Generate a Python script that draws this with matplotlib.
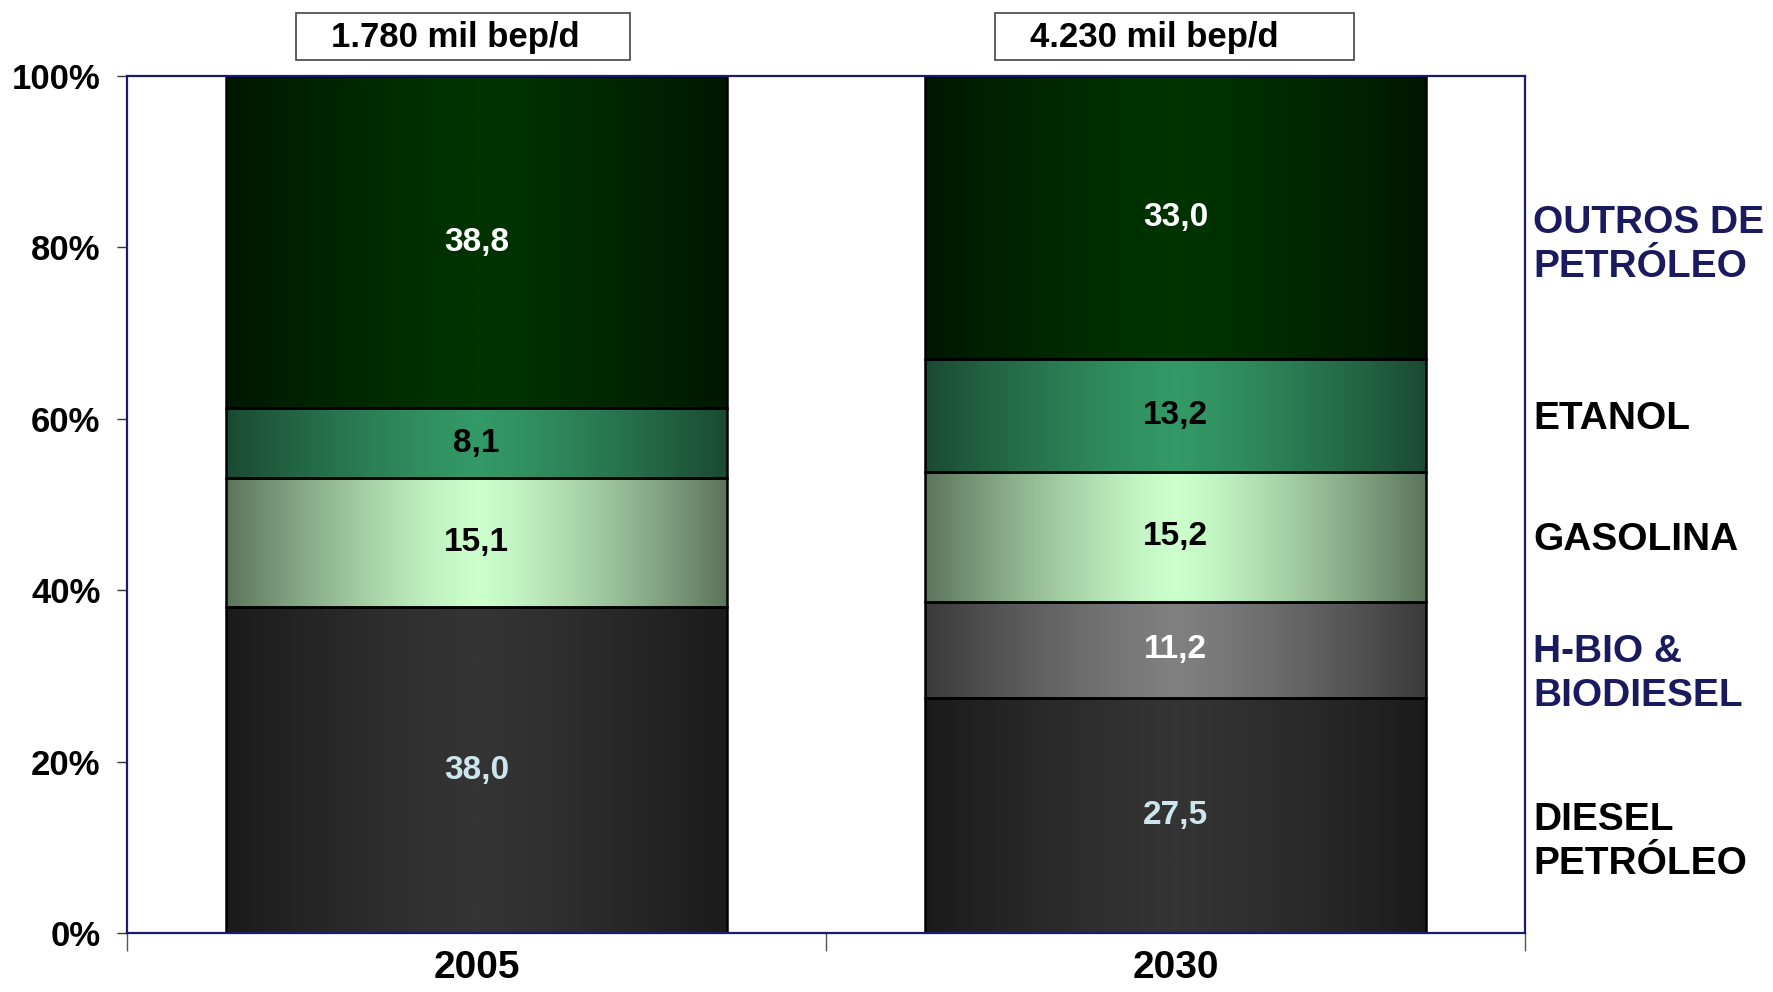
import numpy as np
import matplotlib
matplotlib.use("Agg")
import matplotlib.pyplot as plt
from matplotlib.colors import LinearSegmentedColormap
from matplotlib.patches import Rectangle

plt.rcParams['font.family'] = ['Liberation Sans', 'DejaVu Sans']

# dados (participacao % por ano)
years = ['2005', '2030']
totals = ['1.780 mil bep/d', '4.230 mil bep/d']
diesel = [38.0, 27.5]
hbio = [0.0, 11.2]
gasolina = [15.1, 15.2]
etanol = [8.1, 13.2]
outros = [38.8, 33.0]
series = [diesel, hbio, gasolina, etanol, outros]
names = ['DIESEL\nPETRÓLEO', 'H-BIO &\nBIODIESEL', 'GASOLINA', 'ETANOL', 'OUTROS DE\nPETRÓLEO']
name_y = [10.6, 30.2, 45.9, 60.0, 80.3]
name_col = ['black', '#1a1a5e', 'black', 'black', '#1a1a5e']

# (cor borda, cor centro) do gradiente e cor do rotulo
grads = [('#1b1b1b', '#343434'), ('#3a3a3a', '#808080'), ('#5c755c', '#ccffcc'),
         ('#1a4a33', '#339966'), ('#001800', '#003300')]
lab_col = ['#cde6ee', 'white', 'black', 'black', 'white']

fig = plt.figure(figsize=(17.73, 9.92), dpi=100)
ax = fig.add_axes([0.0716, 0.0595, 0.7885, 0.8639])

x = np.arange(len(years))
w = 0.717
vals = np.array(series, dtype=float)
pct = vals / vals.sum(axis=0) * 100
bottoms = np.vstack([np.zeros(len(years)), np.cumsum(pct, axis=0)[:-1]])

prof = np.abs(np.linspace(-1, 1, 256))
prof = prof ** 1.3
for i in range(len(series)):
    cm = LinearSegmentedColormap.from_list('g%d' % i, [grads[i][1], grads[i][0]])
    for j in range(len(years)):
        h = pct[i, j]
        if h <= 0:
            continue
        b = bottoms[i, j]
        ax.imshow(prof[None, :], cmap=cm, vmin=0, vmax=1, aspect='auto',
                  extent=[x[j] - w / 2, x[j] + w / 2, b, b + h], zorder=1,
                  interpolation='bilinear')
        ax.bar(x[j], h, w, bottom=b, facecolor='none', edgecolor='black',
               linewidth=1.8, zorder=2)
        ax.text(x[j], b + h / 2, ('%.1f' % vals[i, j]).replace('.', ','),
                ha='center', va='center', fontsize=24, fontweight='bold',
                color=lab_col[i], zorder=3)

# caixas com o total de cada ano
box_x = [(-0.2575, 0.2195), (0.7417, 1.256)]
for j in range(len(years)):
    x0, x1 = box_x[j]
    ax.add_patch(Rectangle((x0, 1.0185), x1 - x0, 0.0554, transform=ax.get_xaxis_transform(),
                           fc='white', ec='#444444', lw=1.2, clip_on=False))
    ax.text(x[j] - 0.03, 1.045, totals[j], transform=ax.get_xaxis_transform(),
            ha='center', va='center', fontsize=25, fontweight='bold')

for k in range(len(names)):
    ax.text(1.006, name_y[k] / 100, names[k], transform=ax.transAxes,
            ha='left', va='center', fontsize=28, fontweight='bold',
            color=name_col[k], linespacing=1.3)

ax.set_xlim(-0.5, 1.5)
ax.set_ylim(0, 100)
ax.set_yticks(np.arange(0, 101, 20))
ax.set_yticklabels(['%d%%' % v for v in range(0, 101, 20)], fontsize=25, fontweight='bold')
ax.set_xticks([-0.5, 0.5, 1.5])
ax.set_xticklabels([])
ax.set_xticks(x, minor=True)
ax.set_xticklabels(years, minor=True, fontsize=28, fontweight='bold')
ax.tick_params(axis='x', which='major', length=13, color='#555555', width=1)
ax.tick_params(axis='x', which='minor', length=0, pad=12)
ax.tick_params(axis='y', length=7, width=1, color='#333333', pad=12)
for s in ax.spines.values():
    s.set_color('#1a1a6e')
    s.set_linewidth(1.6)

fig.savefig('out.png', dpi=100)
